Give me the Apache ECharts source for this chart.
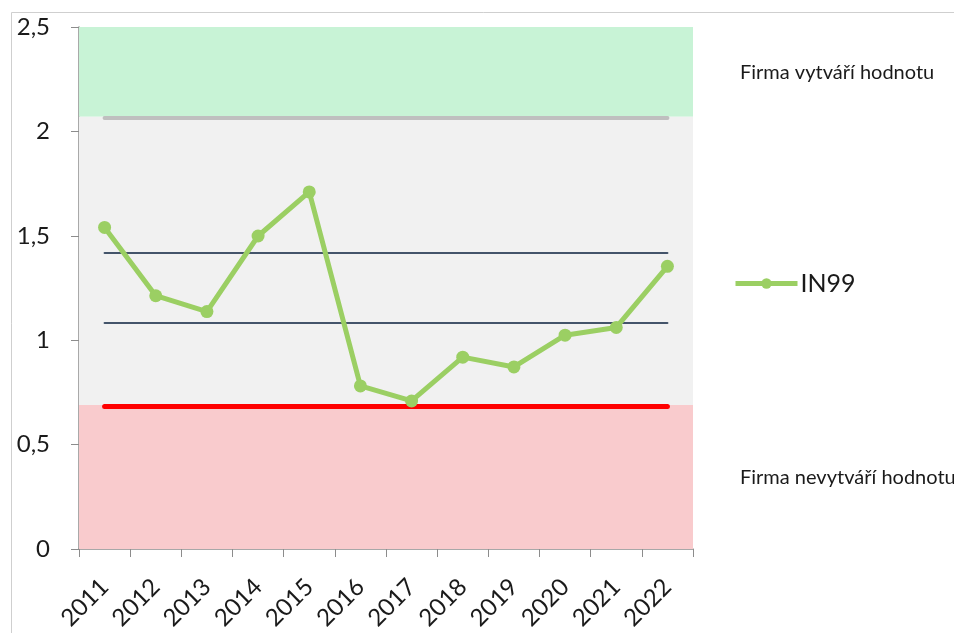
<!DOCTYPE html>
<html>
<head>
<meta charset="utf-8">
<script src="https://cdn.jsdelivr.net/npm/echarts@6/dist/echarts.min.js"></script>
<style>
  html, body { margin: 0; padding: 0; background: #fff; }
  #chart { width: 954px; height: 633px; }
</style>
</head>
<body>
<div id="chart"></div>
<script>
const years = ['2011', '2012', '2013', '2014', '2015', '2016', '2017', '2018', '2019', '2020', '2021', '2022'];
const in99 = [1.54, 1.213, 1.137, 1.499, 1.71, 0.781, 0.709, 0.919, 0.872, 1.024, 1.061, 1.354];

// zones: [from, to]
const zoneGood = [2.07, 2.5];
const zoneGrey = [0.69, 2.07];
const zoneBad = [0, 0.69];
// horizontal reference levels
const lineTop = 2.067;
const lineMid = [1.417, 1.083];
const lineBottom = 0.682;

const yTicks = ['0', '0,5', '1', '1,5', '2', '2,5'];

const chart = echarts.init(document.getElementById('chart'));
const font = 'Lato, "Open Sans", sans-serif';
const first = years[0], last = years[years.length - 1];

function hline(v, color, width) {
    return [
        { coord: [first, v], lineStyle: { color, width, type: 'solid', cap: 'round' } },
        { coord: [last, v] }
    ];
}

chart.setOption({
    animation: false,
    textStyle: { fontFamily: font },
    grid: { left: 79, right: 261, top: 27, bottom: 82 },
    graphic: [{
        type: 'rect', shape: { x: 11.5, y: 12.5, width: 1000, height: 700 },
        style: { fill: 'none', stroke: '#cfcfcf', lineWidth: 1 }, z: -10
    }, {
        type: 'text', left: 740, top: 63,
        style: { text: 'Firma vytváří hodnotu', fontSize: 20, fill: '#1a1a1a', fontFamily: font }
    }, {
        type: 'text', left: 740, top: 468,
        style: { text: 'Firma nevytváří hodnotu', fontSize: 20, fill: '#1a1a1a', fontFamily: font }
    }],
    legend: {
        data: ['IN99'], left: 728, top: 266, itemWidth: 62, itemHeight: 13, itemGap: 4,
        lineStyle: { width: 5 },
        textStyle: { fontSize: 25, color: '#1a1a1a', fontFamily: font, padding: [0, 0, 0, -2] }
    },
    xAxis: {
        type: 'category', data: years, boundaryGap: true,
        axisLine: { lineStyle: { color: '#8c8c8c', width: 1.5 } },
        axisTick: { show: true, length: 8, lineStyle: { color: '#8c8c8c' } },
        axisLabel: { rotate: 45, fontSize: 24, color: '#1a1a1a', margin: 34, interval: 0 }
    },
    yAxis: {
        type: 'value', min: 0, max: 2.5, interval: 0.5,
        splitLine: { show: false },
        axisLine: { show: true, lineStyle: { color: '#8c8c8c', width: 1.5 } },
        axisTick: { show: true, length: 8, lineStyle: { color: '#8c8c8c' } },
        axisLabel: {
            fontSize: 24, color: '#1a1a1a', margin: 29,
            formatter: v => yTicks[Math.round(v / 0.5)]
        }
    },
    series: [{
        name: 'zones', type: 'line', data: [], z: 1, silent: true,
        markArea: {
            silent: true,
            data: [
                [{ yAxis: zoneGood[0], itemStyle: { color: '#c8f3d6' } }, { yAxis: zoneGood[1] }],
                [{ yAxis: zoneGrey[0], itemStyle: { color: '#f1f1f1' } }, { yAxis: zoneGrey[1] }],
                [{ yAxis: zoneBad[0], itemStyle: { color: '#f9cbcd' } }, { yAxis: zoneBad[1] }]
            ]
        },
        markLine: {
            silent: true, symbol: 'none', label: { show: false },
            data: [
                hline(lineTop, '#bfbfbf', 4),
                hline(lineMid[0], '#44546a', 2),
                hline(lineMid[1], '#44546a', 2),
                hline(lineBottom, '#ff0000', 5)
            ]
        }
    }, {
        name: 'IN99', type: 'line', data: in99, z: 5,
        symbol: 'circle', symbolSize: 13,
        lineStyle: { color: '#9bcf63', width: 5 },
        itemStyle: { color: '#9bcf63' }
    }]
});

window.onresize = () => chart.resize();
</script>
</body>
</html>
